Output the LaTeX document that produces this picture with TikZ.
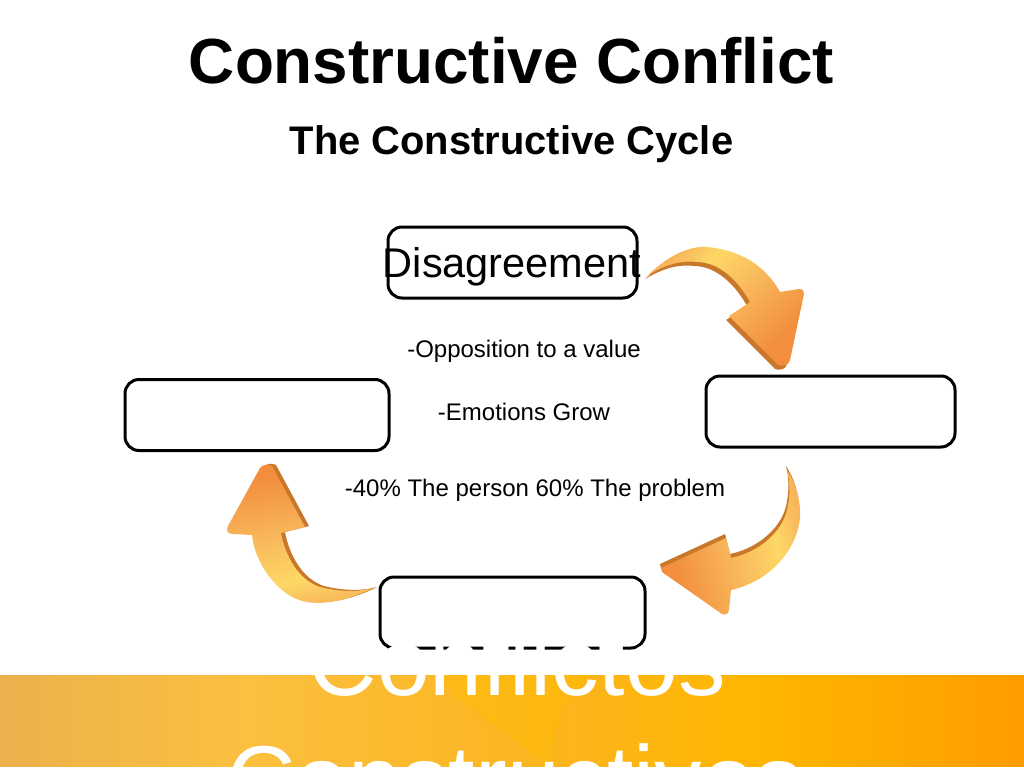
\documentclass[tikz,border=0pt]{standalone}
\usepackage{fontspec}
\setmainfont{Liberation Sans}
\definecolor{arrowhead}{HTML}{F28E3E}
\definecolor{arrowmid}{HTML}{F8B55A}
\definecolor{arrowyellow}{HTML}{FDD866}
\definecolor{arrowdark}{HTML}{C9772A}
\definecolor{banda}{HTML}{EDB04C}
\definecolor{bandb}{HTML}{FBC03F}
\definecolor{bandc}{HTML}{FBB520}
\definecolor{bandd}{HTML}{FFB600}
\definecolor{bande}{HTML}{FF9C00}
\definecolor{bandlight}{HTML}{FFBC05}
\pgfdeclarehorizontalshading{arrowgrad}{100bp}{color(0bp)=(arrowhead); color(28bp)=(arrowhead); color(48bp)=(arrowmid); color(66bp)=(arrowyellow); color(76bp)=(arrowmid); color(100bp)=(arrowmid)}
\pgfdeclarehorizontalshading{bandgrad}{100bp}{color(0bp)=(banda); color(25bp)=(banda); color(37bp)=(bandb); color(51bp)=(bandc); color(62bp)=(bandd); color(75bp)=(bande); color(100bp)=(bande)}
\tikzset{
  x=1pt,y=-1pt,
  cyclebox/.style={draw=black,line width=3pt,fill=white,rounded corners=14pt,inner sep=0pt,minimum width=#1,minimum height=71pt},
  txt/.style={anchor=base,inner sep=0pt,text=black},
  arrowfill/.style={shading=arrowgrad,shading angle=#1},
  arrowshadow/.style={fill=arrowdark}
}
\newcommand{\arrowone}{(648,275) .. controls (670,254) and (690,246) .. (707,247) .. controls (740,250) and (765,265) .. (780,292) -- (799,289) .. controls (803,289) and (804,291) .. (804,294) -- (790,360) .. controls (789,365) and (783,367) .. (778,365) -- (729,316) -- (750,302) .. controls (735,275) and (715,262) .. (697,262) .. controls (680,260) and (665,265) .. (648,275) -- cycle}
\newcommand{\arrowtwo}{(787,470) .. controls (797,485) and (801,505) .. (800,517) .. controls (798,545) and (775,580) .. (731,590) -- (729,610) .. controls (728,615) and (725,615) .. (722,614) -- (662,572) -- (661,568) -- (726,538) -- (731,558) .. controls (760,552) and (785,530) .. (788,505) .. controls (790,495) and (790,482) .. (787,470) -- cycle}
\newcommand{\arrowthree}{(373,588) .. controls (350,600) and (325,605) .. (307,602) .. controls (280,598) and (255,565) .. (252,535) -- (232,534) .. controls (227,533) and (226,530) .. (228,526) -- (260,468) .. controls (263,464) and (268,464) .. (272,466) -- (305,527) -- (281,533) .. controls (285,555) and (298,580) .. (320,587) .. controls (340,592) and (358,592) .. (373,588) -- cycle}
\begin{document}
\begin{tikzpicture}
\useasboundingbox (0,0) rectangle (1024,768);
\fill[white] (0,0) rectangle (1024,768);
% banner
\path[shading=bandgrad] (0,675) rectangle (1024,766);
\fill[bandlight,opacity=0.5] (457,699) -- (549,766) -- (562,708) -- (590,675) -- (440,675) -- cycle;
% arrows
\fill[arrowshadow,shift={(-3,4)}] \arrowone;
\path[arrowfill=135] \arrowone;
\fill[arrowshadow,shift={(-1,-4)}] \arrowtwo;
\path[arrowfill=15] \arrowtwo;
\fill[arrowshadow,shift={(4,-1)}] \arrowthree;
\path[arrowfill=-80] \arrowthree;
% boxes
\node[cyclebox=249pt] (top) at (512.5,262.5) {};
\node[cyclebox=264pt] (left) at (257,415) {};
\node[cyclebox=249pt] (right) at (830.5,411.5) {};
\node[cyclebox=265pt] (bottom) at (512.5,612.5) {};
% text
\node[txt,font=\bfseries\fontsize{63.8}{70}\selectfont] (title) at (511.5,83) {Constructive Conflict};
\node[txt,font=\bfseries\fontsize{39.9}{44}\selectfont] (subtitle) at (511.5,154) {The Constructive Cycle};
\node[txt,font=\fontsize{41.5}{46}\selectfont] (dis) at (512,277) {Disagreement};
\node[txt,font=\fontsize{24}{28}\selectfont] (l1) at (524,357) {-Opposition to a value};
\node[txt,font=\fontsize{24}{28}\selectfont] (l2) at (524,420) {-Emotions Grow};
\node[txt,font=\fontsize{24}{28}\selectfont] (l3) at (535,496) {-40\% The person 60\% The problem};
\begin{scope}
\clip (0,0) rectangle (1024,766);
\node[txt,text=white,font=\fontsize{95}{100}\selectfont] (c1) at (517,695) {Conflictos};
\node[txt,text=white,font=\fontsize{95}{100}\selectfont] (c2) at (515,812) {Constructivos};
\end{scope}
\end{tikzpicture}
\end{document}
